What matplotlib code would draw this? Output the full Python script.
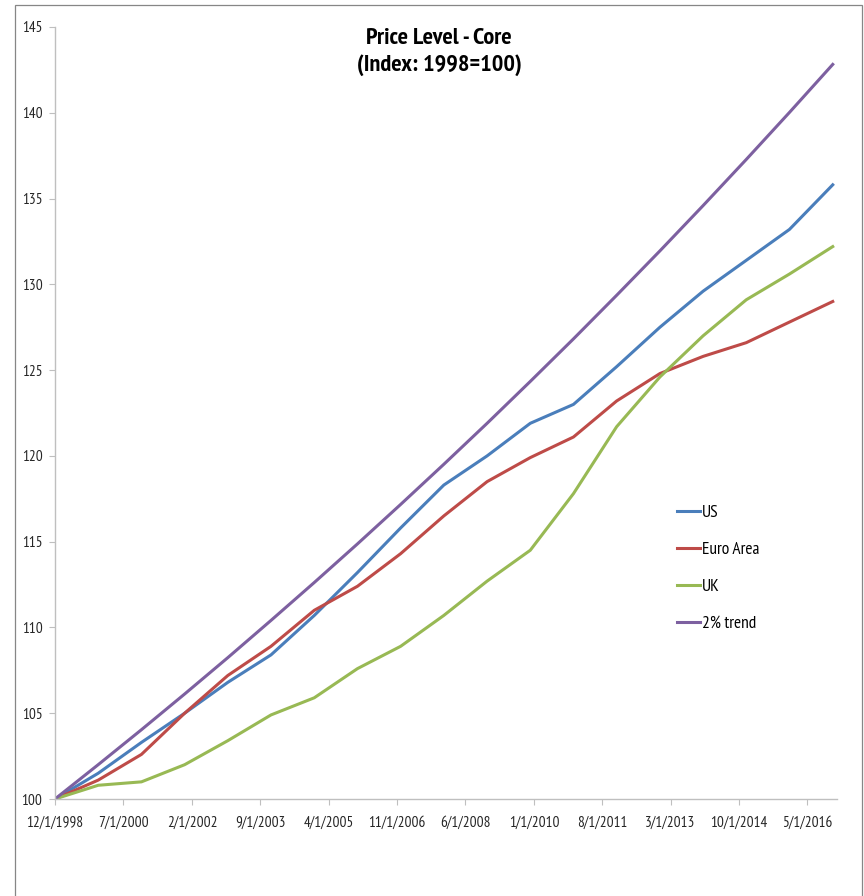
import matplotlib
matplotlib.use('Agg')
import matplotlib.pyplot as plt
from matplotlib.patches import Rectangle
import pandas as pd

# annual observations, December of each year
dates = pd.to_datetime([f'{y}-12-01' for y in range(1998, 2017)])

us = [100.0, 101.5, 103.3, 105.0, 106.8, 108.4, 110.7, 113.2, 115.8, 118.3,
      120.0, 121.9, 123.0, 125.2, 127.5, 129.6, 131.4, 133.2, 135.8]
euro_area = [100.0, 101.1, 102.6, 105.0, 107.2, 108.9, 111.0, 112.4, 114.3, 116.5,
             118.5, 119.9, 121.1, 123.2, 124.8, 125.8, 126.6, 127.8, 129.0]
uk = [100.0, 100.8, 101.0, 102.0, 103.4, 104.9, 105.9, 107.6, 108.9, 110.7,
      112.7, 114.5, 117.8, 121.7, 124.6, 127.0, 129.1, 130.6, 132.2]
trend_2pct = [100.00, 102.00, 104.04, 106.12, 108.24, 110.41, 112.62, 114.87,
              117.17, 119.51, 121.90, 124.34, 126.82, 129.36, 131.95, 134.59,
              137.28, 140.02, 142.82]

series_names = ['US', 'Euro Area', 'UK', '2% trend']
series_colors = ['#4A7EBB', '#BE4B48', '#98B954', '#7D60A0']

tick_dates = pd.to_datetime(['1998-12-01', '2000-07-01', '2002-02-01', '2003-09-01',
                             '2005-04-01', '2006-11-01', '2008-06-01', '2010-01-01',
                             '2011-08-01', '2013-03-01', '2014-10-01', '2016-05-01'])
tick_labels = [f'{d.month}/{d.day}/{d.year}' for d in tick_dates]

plt.rcParams['font.family'] = ['PT Sans Narrow', 'DejaVu Sans']

fig = plt.figure(figsize=(8.64, 8.96), dpi=100)
ax = fig.add_axes([55 / 864, 1 - 799 / 896, (837 - 55) / 864, (799 - 27) / 896])

for vals, name, col in zip([us, euro_area, uk, trend_2pct], series_names, series_colors):
    ax.plot(dates, vals, color=col, linewidth=2.2, label=name, solid_joinstyle='round')

ax.set_ylim(100, 145)
ax.set_yticks(range(100, 146, 5))
ax.set_xlim(pd.Timestamp('1998-12-01'), pd.Timestamp('2017-01-06'))
ax.set_xticks(tick_dates)
ax.set_xticklabels(tick_labels)

for side in ['top', 'right']:
    ax.spines[side].set_visible(False)
for side in ['left', 'bottom']:
    ax.spines[side].set_color('#BFBFBF')
    ax.spines[side].set_linewidth(1.0)

ax.tick_params(axis='both', direction='out', length=4, width=0.8,
               color='#BFBFBF', labelsize=11, labelcolor='#262626')
ax.tick_params(axis='y', pad=5)
ax.tick_params(axis='x', pad=8)

fig.text(439 / 864, 1 - 28 / 896, 'Price Level - Core\n(Index: 1998=100)',
         ha='center', va='top', fontsize=17.5, fontweight='bold',
         linespacing=1.3, color='black')

ax.legend(loc='upper left', bbox_to_anchor=(677 / 864, 1 - 505 / 896),
          bbox_transform=fig.transFigure, frameon=False, fontsize=12.5,
          handlelength=1.32, handletextpad=0.12, labelspacing=1.2,
          borderpad=0, borderaxespad=0)

# outer chart border
fig.patches.append(Rectangle((15 / 864, -0.02), (862 - 15) / 864, 1 - 5 / 896 + 0.02,
                             transform=fig.transFigure, fill=False,
                             edgecolor='#868686', linewidth=0.9))

fig.savefig('out.png', dpi=100)
